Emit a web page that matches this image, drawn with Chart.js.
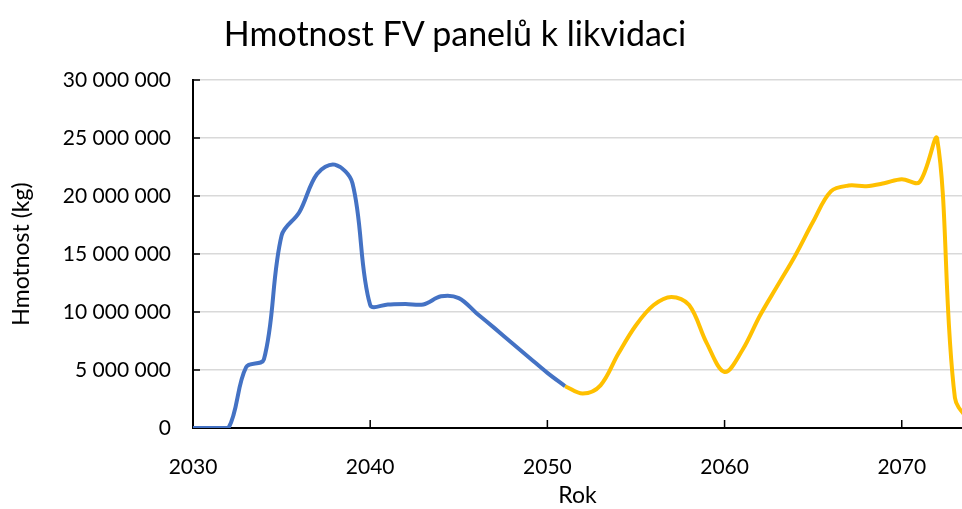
<!DOCTYPE html>
<html lang="cs">
  <head>
    <meta charset="utf-8">
    <title>Hmotnost FV panelů k likvidaci</title>
    <script src="https://cdn.jsdelivr.net/npm/chart.js"></script>
    <style>
      body { margin: 0; background: #fff; }
      #wrap { position: relative; width: 962px; height: 509px; }
      #title {
        position: absolute; left: 0; top: 11px; width: 910px;
        text-align: center; font-family: Lato, sans-serif; font-size: 34px;
        line-height: 44px; color: #000;
      }
    </style>
  </head>
  <body>
    <div id="wrap">
      <div id="title">Hmotnost FV panelů k likvidaci</div>
      <canvas id="myChart" width="962" height="509"></canvas>
    </div>
    <script>
      // roky
      const years = [2030, 2031, 2032, 2033, 2034, 2035, 2036, 2037, 2038, 2039,
                     2040, 2041, 2042, 2043, 2044, 2045, 2046, 2047, 2048, 2049,
                     2050, 2051, 2052, 2053, 2054, 2055, 2056, 2057, 2058, 2059,
                     2060, 2061, 2062, 2063, 2064, 2065, 2066, 2067, 2068, 2069,
                     2070, 2071, 2072, 2073, 2074];
      // modra cast 2030-2051 (kg)
      const blueValues = [0, 0, 0, 5250000, 5900000, 16600000, 18600000, 21900000, 22700000, 21100000,
                          10600000, 10650000, 10700000, 10650000, 11350000, 11200000, 9900000, 8630000, 7330000, 6040000,
                          4750000, 3600000];
      // zluta cast 2051-2074 (kg)
      const yellowValues = [3600000, 2970000, 3680000, 6400000, 8860000, 10600000, 11300000, 10600000, 7300000,
                            4830000, 6700000, 9700000, 12300000, 14900000, 17800000, 20400000, 20900000, 20850000, 21100000,
                            21450000, 21200000, 24900000, 2600000, 300000];
      const yTicks = [0, 5000000, 10000000, 15000000, 20000000, 25000000, 30000000];
      const xTicks = [2030, 2040, 2050, 2060, 2070];

      const bluePoints = blueValues.map((v, i) => ({ x: years[i], y: v }));
      const yellowPoints = yellowValues.map((v, i) => ({ x: years[i + 21], y: v }));

      function spaced(n) {
        return String(n).replace(/\B(?=(\d{3})+(?!\d))/g, ' ');
      }

      // kratke cerne znacky dovnitr grafu
      const innerTicks = {
        id: 'innerTicks',
        beforeDatasetsDraw(chart) {
          const c = chart.ctx;
          const xs = chart.scales.x, ys = chart.scales.y;
          const a = chart.chartArea;
          c.save();
          c.strokeStyle = '#000';
          c.lineWidth = 1.5;
          c.beginPath();
          yTicks.forEach(v => {
            const y = ys.getPixelForValue(v);
            c.moveTo(a.left, y);
            c.lineTo(a.left + 7, y);
          });
          xTicks.forEach(v => {
            const x = xs.getPixelForValue(v);
            c.moveTo(x, a.bottom);
            c.lineTo(x, a.bottom - 8);
          });
          c.stroke();
          c.restore();
        }
      };

      const ctx = document.getElementById('myChart');
      new Chart(ctx, {
        type: 'line',
        data: {
          datasets: [{
            data: yellowPoints,
            borderColor: '#FFC000',
            borderWidth: 4,
            pointRadius: 0,
            tension: 0.35,
            fill: false
          }, {
            data: bluePoints,
            borderColor: '#4472C4',
            borderWidth: 4,
            pointRadius: 0,
            tension: 0.35,
            fill: false
          }]
        },
        options: {
          responsive: false,
          animation: false,
          layout: { padding: { top: 80, left: 0, right: 0, bottom: 0 } },
          plugins: {
            legend: { display: false },
            tooltip: { enabled: false }
          },
          scales: {
            x: {
              type: 'linear',
              min: 2030,
              max: 2073.4,
              afterFit(scale) { scale.height = 81; },
              grid: { display: false, drawTicks: false },
              border: { display: true, color: '#000', width: 2 },
              ticks: {
                stepSize: 10,
                includeBounds: false,
                padding: 27,
                color: '#000',
                font: { family: 'Lato', size: 21 },
                callback: v => String(v)
              },
              title: {
                display: true,
                text: 'Rok',
                color: '#000',
                font: { family: 'Lato', size: 23 },
                padding: { top: 0, bottom: 0 }
              }
            },
            y: {
              min: 0,
              max: 30000000,
              afterFit(scale) { scale.width = 193; },
              grid: { color: '#D9D9D9', lineWidth: 1.5, drawTicks: false },
              border: { display: true, color: '#000', width: 2 },
              ticks: {
                stepSize: 5000000,
                padding: 22,
                color: '#000',
                font: { family: 'Lato', size: 21 },
                callback: v => spaced(v)
              },
              title: {
                display: true,
                text: 'Hmotnost (kg)',
                color: '#000',
                font: { family: 'Lato', size: 23 },
                padding: { top: 8, bottom: 0 }
              }
            }
          }
        },
        plugins: [innerTicks]
      });
    </script>
  </body>
</html>
